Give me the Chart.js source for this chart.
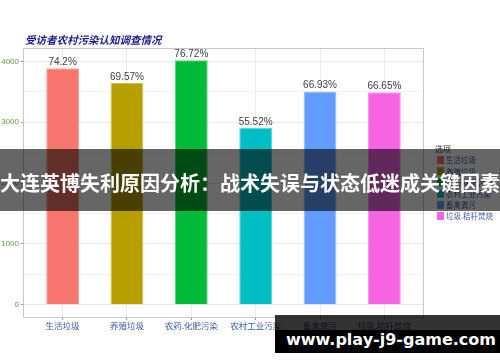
<!DOCTYPE html>
<html>
<head>
<meta charset="utf-8">
<script src="https://cdn.jsdelivr.net/npm/chart.js@4.4.1/dist/chart.umd.min.js"></script>
<style>
  body { margin: 0; background: #fff; }
  #wrap { position: relative; width: 500px; height: 362px; overflow: hidden; }
  #banner {
    position: absolute; left: 0; top: 149px; width: 500px; height: 62px;
    background: rgba(0,0,0,0.6); color: #fff;
    font: bold 20px "Noto Sans CJK SC", sans-serif;
    line-height: 68px; text-align: center; white-space: nowrap;
  }
  #mark {
    position: absolute; left: 275px; top: 315px; width: 225px; height: 38px;
    background: rgba(0,0,0,0.8);
  }
  #mark div {
    position: absolute; left: 0; top: 15px; width: 225px; height: 23px; background: #000;
    color: #fff; font: bold 16px "DejaVu Sans", sans-serif; line-height: 20px;
    padding-left: 11px; box-sizing: border-box; white-space: nowrap;
  }
</style>
</head>
<body>
<div id="wrap">
  <canvas id="chart" width="500" height="362"></canvas>
  <div id="banner">大连英博失利原因分析：战术失误与状态低迷成关键因素</div>
  <div id="mark"><div>www.play-j9-game.com</div></div>
</div>
<script>
// data
const categories = ['生活垃圾', '养殖垃圾', '农药.化肥污染', '农村工业污染', '畜禽粪污', '垃圾.秸秆焚烧'];
const counts = [3888, 3645, 4020, 2909, 3507, 3493];
const percents = ['74.2%', '69.57%', '76.72%', '55.52%', '66.93%', '66.65%'];
const yTicks = [0, 500, 1000, 1500, 2000, 2500, 3000, 3500, 4000];
const colors = ['#F8766D', '#B79F00', '#00BA38', '#00BFC4', '#619CFF', '#F564E3'];

const cjk = '"Noto Sans CJK SC", sans-serif';
const yMax = Math.max(...counts) * 1.05;
const yMin = -Math.max(...counts) * 0.05;

const extras = {
  id: 'extras',
  afterDatasetsDraw(chart) {
    const ctx = chart.ctx;
    const area = chart.chartArea;
    // value labels
    ctx.save();
    ctx.font = '10px "Liberation Sans", Arial, sans-serif';
    ctx.fillStyle = '#404040';
    ctx.textAlign = 'center';
    ctx.textBaseline = 'bottom';
    chart.getDatasetMeta(0).data.forEach((bar, i) => {
      ctx.fillText(percents[i], bar.x, bar.y - 1);
    });
    // panel border
    ctx.strokeStyle = '#c8c8c8';
    ctx.lineWidth = 1;
    ctx.strokeRect(Math.round(area.left) - 0.5, Math.round(area.top) + 0.5,
      Math.round(area.right - area.left) + 1, Math.round(area.bottom - area.top));
    // title
    ctx.font = 'italic bold 10.5px ' + cjk;
    ctx.fillStyle = '#1c1c8a';
    ctx.textAlign = 'left';
    ctx.textBaseline = 'middle';
    ctx.fillText('受访者农村污染认知调查情况', 25, 40);
    // legend
    ctx.font = '8px ' + cjk;
    ctx.fillStyle = '#333';
    ctx.fillText('选项', 435, 149);
    ctx.font = '7.5px ' + cjk;
    categories.forEach((c, i) => {
      const y = 156 + i * 11.2;
      ctx.fillStyle = colors[i];
      ctx.fillRect(437, y, 7, 8);
      ctx.fillStyle = '#3b5aa6';
      ctx.fillText(c, 446, y + 4.5);
    });
    ctx.restore();
  }
};

new Chart(document.getElementById('chart'), {
  type: 'bar',
  data: {
    datasets: [{
      data: counts.map((v, i) => ({ x: i, y: v })),
      backgroundColor: colors,
      borderColor: colors.map(c => c + 'aa'),
      borderWidth: 1,
      barPercentage: 0.51,
      categoryPercentage: 1
    }]
  },
  options: {
    responsive: false,
    animation: false,
    devicePixelRatio: 1,
    layout: { padding: { top: 48, right: 77, bottom: 25, left: 0 } },
    plugins: { legend: { display: false }, tooltip: { enabled: false } },
    scales: {
      x: {
        type: 'linear',
        min: -0.6,
        max: categories.length - 0.4,
        offset: false,
        afterBuildTicks: s => { s.ticks = categories.map((_, i) => ({ value: i })); },
        afterFit: s => { s.height = 20; },
        grid: { offset: false, color: '#ebebeb', tickColor: '#999', tickLength: 3 },
        border: { display: false },
        ticks: {
          autoSkip: false, maxRotation: 0, padding: 1,
          color: '#3b5aa6', font: { size: 8.5, family: cjk },
          callback: v => categories[v]
        }
      },
      y: {
        min: yMin,
        max: yMax,
        afterBuildTicks: s => { s.ticks = yTicks.map(v => ({ value: v })); },
        afterFit: s => { s.width = 24; },
        grid: {
          color: c => c.tick && c.tick.value % 1000 === 0 ? '#e8e8e8' : '#f4f4f4',
          tickColor: c => c.tick && c.tick.value % 1000 === 0 ? '#999' : 'rgba(0,0,0,0)',
          tickLength: 3
        },
        border: { display: false },
        ticks: {
          padding: 2,
          color: '#6a9a40', font: { size: 8, family: '"Liberation Sans", Arial, sans-serif' },
          callback: v => v % 1000 === 0 ? v : ''
        }
      }
    }
  },
  plugins: [extras]
});
</script>
</body>
</html>
